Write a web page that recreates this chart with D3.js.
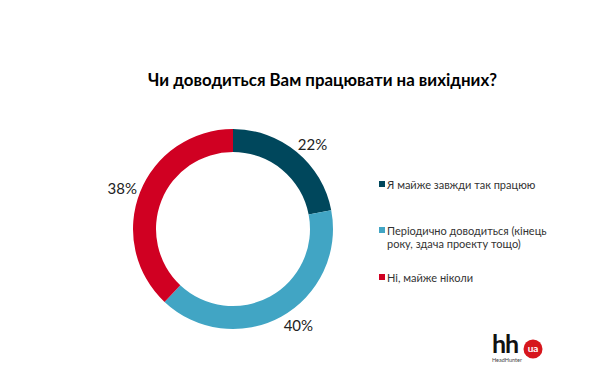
<!DOCTYPE html>
<html>
<head>
<meta charset="utf-8">
<script src="https://cdn.jsdelivr.net/npm/d3@7"></script>
<style>
  body { margin: 0; background: #fff; }
  text { font-family: Lato, "Open Sans", sans-serif; }
</style>
</head>
<body>
<script>
const w = 600;
const h = 378;

const categories = ["Я майже завжди так працюю", "Періодично доводиться (кінець року, здача проекту тощо)", "Ні, майже ніколи"];
const legendLines = [["Я майже завжди так працюю"], ["Періодично доводиться (кінець", "року, здача проекту тощо)"], ["Ні, майже ніколи"]];
const values = [22, 40, 38];
const colors = ["#00475c", "#41a5c4", "#d00022"];

const svg = d3.select("body")
    .append("svg")
    .attr("width", w)
    .attr("height", h)
    ;

svg.append("text")
    .attr("x", 148)
    .attr("y", 86)
    .attr("font-size", 16.5)
    .attr("font-weight", "bold")
    .attr("fill", "#000")
    .attr("textLength", 349)
    .attr("lengthAdjust", "spacingAndGlyphs")
    .text("Чи доводиться Вам працювати на вихідних?")
    ;

const cx = 233, cy = 229;
const outerR = 100, innerR = 77;

const pie = d3.pie().sort(null).value(d => d);
const arc = d3.arc().innerRadius(innerR).outerRadius(outerR);
const labelArc = d3.arc().innerRadius(117).outerRadius(117);

const g = svg.append("g").attr("transform", `translate(${cx},${cy})`);
const arcs = pie(values);

g.selectAll("path")
    .data(arcs)
    .enter()
    .append("path")
    .attr("d", arc)
    .attr("fill", (d, i) => colors[i])
    ;

// small nudges so labels sit where the original placed them
const labelOffsets = [[5, 5], [9, -7], [-2, 2]];
g.selectAll("text.pct")
    .data(arcs)
    .enter()
    .append("text")
    .attr("class", "pct")
    .attr("x", (d, i) => labelArc.centroid(d)[0] + labelOffsets[i][0])
    .attr("y", (d, i) => labelArc.centroid(d)[1] + labelOffsets[i][1])
    .attr("text-anchor", "middle")
    .attr("dominant-baseline", "central")
    .attr("font-size", 15)
    .attr("fill", "#222")
    .text(d => d.value + "%")
    ;

const legendY = d3.scalePoint().domain(categories).range([184, 277]);
const leg = svg.selectAll("g.leg")
    .data(categories)
    .enter()
    .append("g")
    .attr("class", "leg")
    .attr("transform", d => `translate(379,${d === categories[1] ? 230 : legendY(d)})`)
    ;
leg.append("rect")
    .attr("x", 0)
    .attr("y", -3)
    .attr("width", 6)
    .attr("height", 6)
    .attr("fill", (d, i) => colors[i])
    ;
leg.append("text")
    .attr("x", 8)
    .attr("y", 0)
    .attr("dominant-baseline", "central")
    .attr("font-size", 11)
    .attr("fill", "#333")
    .selectAll("tspan")
    .data((d, i) => legendLines[i])
    .enter()
    .append("tspan")
    .attr("x", 8)
    .attr("dy", (d, i) => i === 0 ? 0 : 13)
    .text(d => d)
    ;

// hh.ua logo
const logo = svg.append("g").attr("transform", "translate(492,353)");
logo.append("text")
    .attr("x", 0)
    .attr("y", 0)
    .attr("font-size", 25)
    .attr("font-weight", "bold")
    .attr("font-family", "Liberation Sans, Arial, sans-serif")
    .attr("letter-spacing", -1)
    .attr("fill", "#111")
    .text("hh")
    ;
logo.append("circle")
    .attr("cx", 41)
    .attr("cy", -4)
    .attr("r", 9.5)
    .attr("fill", "#d6161d")
    ;
logo.append("text")
    .attr("x", 41)
    .attr("y", -1)
    .attr("text-anchor", "middle")
    .attr("font-size", 10)
    .attr("font-weight", "bold")
    .attr("fill", "#fff")
    .text("ua")
    ;
logo.append("text")
    .attr("x", 0)
    .attr("y", 9)
    .attr("font-size", 5.5)
    .attr("fill", "#444")
    .text("HeadHunter")
    ;
</script>
</body>
</html>
